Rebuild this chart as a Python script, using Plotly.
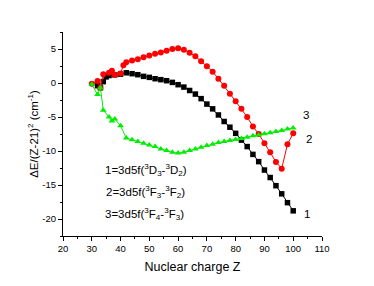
import plotly.graph_objects as go

# Series 1: 3d5f(3D3-3D2) (black squares)
z1 = [32, 33, 34, 35, 36, 38, 40, 42] + list(range(44, 101, 2))
v1 = [-0.4, -0.7, 0.2, 0.9, 1.1, 1.2, 1.3, 1.5,
      1.37, 1.22, 0.98, 0.83, 0.63, 0.49, 0.34, 0.09, -0.25, -0.6, -1.1, -1.63,
      -2.3, -3.1, -3.8, -4.7, -5.66, -6.5, -7.4, -8.4, -9.35, -10.5, -11.56,
      -12.8, -13.9, -15.1, -16.3, -17.6, -18.8]

# Series 2: 3d5f(3F3-3F2) (red circles)
z2 = [30, 32, 33, 34, 36, 37, 38, 40, 41] + list(range(42, 101, 2))
v2 = [-0.1, 0.3, -0.7, 1.3, 1.5, 1.8, 1.2, 1.4, 2.6,
      3.05, 3.3, 3.5, 3.8, 4.05, 4.3, 4.5, 4.75, 5.0, 5.1, 4.9, 4.45, 3.93,
      3.2, 2.45, 1.67, 0.63, -0.4, -1.58, -2.7, -3.8, -5.0, -6.4, -7.5, -8.85,
      -10.2, -11.6, -12.6, -9.0, -7.4]

# Series 3: 3d5f(3F4-3F3) (green triangles)
z3 = [30, 32, 33, 34, 36, 37, 38, 40] + list(range(42, 101, 2))
v3 = [-0.2, -1.7, -0.7, -4.0, -5.0, -5.6, -5.3, -6.3,
      -8.1, -8.36, -8.6, -8.85, -9.1, -9.35, -9.7, -9.94, -10.2, -10.3, -10.2,
      -9.94, -9.7, -9.44, -9.2, -9.0, -8.76, -8.6, -8.45, -8.3, -8.15, -7.96,
      -7.77, -7.63, -7.48, -7.33, -7.14, -6.99, -6.78, -6.6]

x_ticks = [20, 30, 40, 50, 60, 70, 80, 90, 100, 110]
y_ticks = [-20, -15, -10, -5, 0, 5]
y_tick_text = ["-20", "-15", "-10", "-5", "0", "5"]

legend_lines = [
    "1=3d5f(<sup>3</sup>D<sub>3</sub>-<sup>3</sup>D<sub>2</sub>)",
    "2=3d5f(<sup>3</sup>F<sub>3</sub>-<sup>3</sup>F<sub>2</sub>)",
    "3=3d5f(<sup>3</sup>F<sub>4</sub>-<sup>3</sup>F<sub>3</sub>)",
]
legend_y = [-12.8, -16.0, -19.3]
legend_x = [33.8, 34.3, 34.0]

curve_labels = ["1", "2", "3"]
curve_label_x = [103.0, 103.6, 102.7]
curve_label_y = [-19.3, -8.3, -4.7]

fig = go.Figure()
fig.add_trace(go.Scatter(x=z1, y=v1, mode="lines+markers",
                         line=dict(color="black", width=1),
                         marker=dict(symbol="square", size=5.5, color="black")))
fig.add_trace(go.Scatter(x=z2, y=v2, mode="lines+markers",
                         line=dict(color="red", width=1),
                         marker=dict(symbol="circle", size=6, color="red")))
fig.add_trace(go.Scatter(x=z3, y=v3, mode="lines+markers",
                         line=dict(color="#00ee00", width=1),
                         marker=dict(symbol="triangle-up", size=6, color="#00ee00")))

for t, x, y in zip(legend_lines, legend_x, legend_y):
    fig.add_annotation(x=x, y=y, text=t, showarrow=False, xanchor="left",
                       yanchor="middle", font=dict(size=11.5, color="black"))
for t, x, y in zip(curve_labels, curve_label_x, curve_label_y):
    fig.add_annotation(x=x, y=y, text=t, showarrow=False, xanchor="left",
                       yanchor="middle", font=dict(size=11.5, color="black"))

axis_common = dict(showline=True, linecolor="black", linewidth=1, showgrid=False,
                   zeroline=False, ticks="outside", ticklen=4, tickcolor="black",
                   tickfont=dict(size=9.5, color="black"), automargin=False)

fig.update_xaxes(range=[20, 110], tickvals=x_ticks,
                 minor=dict(ticks="outside", ticklen=2, dtick=5, tickcolor="black"),
                 title=dict(text="Nuclear charge Z", font=dict(size=12.5, color="black"),
                            standoff=8),
                 **axis_common)
fig.update_yaxes(range=[-22.5, 7.5], tickvals=y_ticks, ticktext=y_tick_text,
                 minor=dict(ticks="outside", ticklen=2, dtick=2.5, tickcolor="black"),
                 title=dict(text="ΔE/(Z-21)<sup>2</sup> (cm<sup>-1</sup>)",
                            font=dict(size=11.5, color="black"), standoff=1),
                 **axis_common)

fig.update_layout(width=366, height=278, showlegend=False,
                  margin=dict(l=55, r=52, t=24, b=50),
                  paper_bgcolor="white", plot_bgcolor="white",
                  font=dict(family="Liberation Sans, Arial, sans-serif", color="black"))

fig.write_html("out.html")
